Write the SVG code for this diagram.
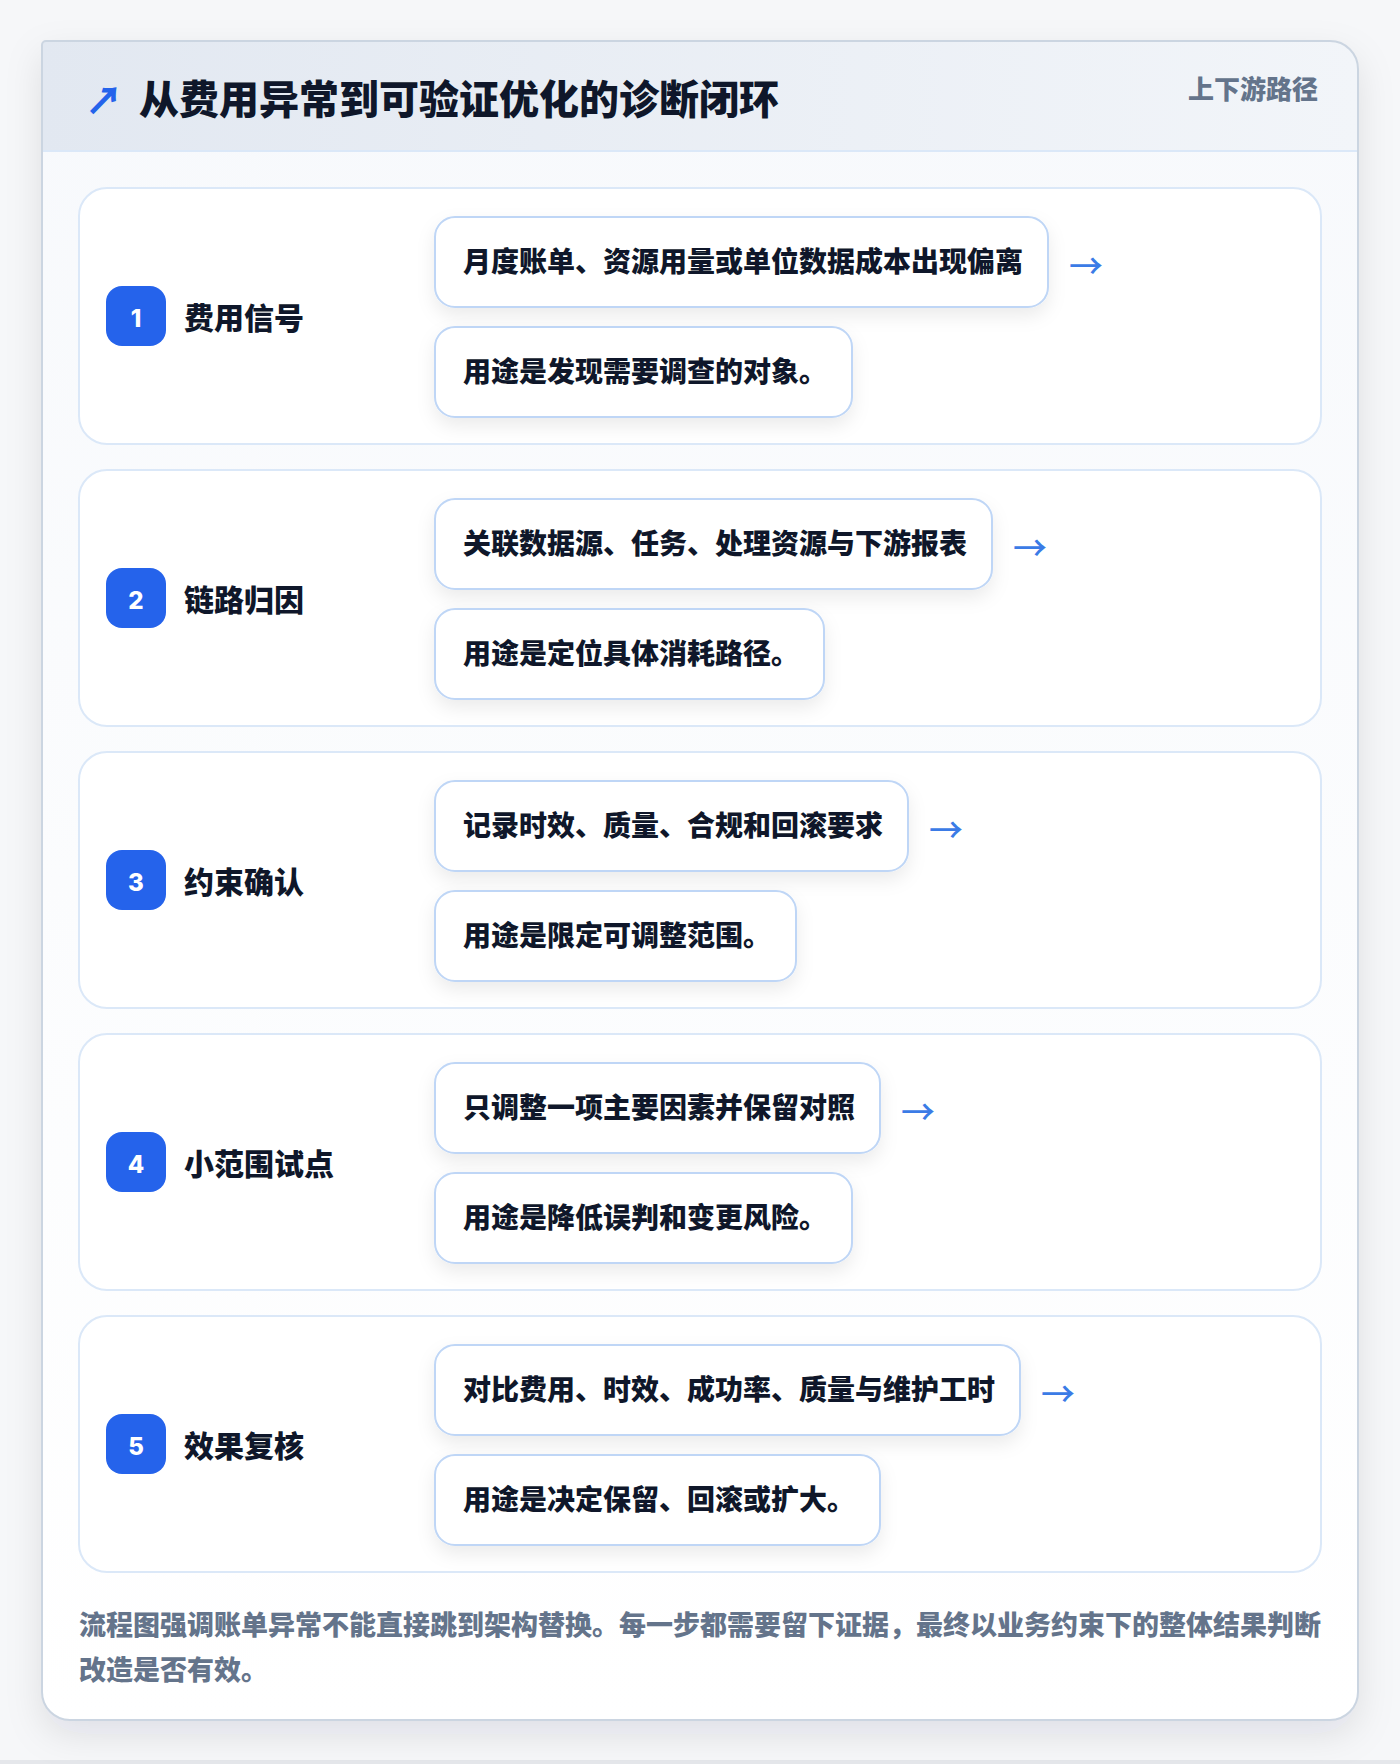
<svg xmlns="http://www.w3.org/2000/svg" width="1400" height="1764" viewBox="0 0 1400 1764">
  <defs>
    <linearGradient id="hdr" x1="0" y1="0" x2="1" y2="0">
      <stop offset="0" stop-color="#e2e8f1"/>
      <stop offset="1" stop-color="#f2f5f9"/>
    </linearGradient>
    <linearGradient id="body" x1="0" y1="0" x2="0" y2="1">
      <stop offset="0" stop-color="#f7f9fc"/>
      <stop offset="1" stop-color="#ffffff"/>
    </linearGradient>
    <filter id="cardShadow" x="-10%" y="-10%" width="120%" height="120%">
      <feDropShadow dx="0" dy="14" stdDeviation="18" flood-color="#0f172a" flood-opacity="0.10"/>
    </filter>
    <filter id="boxShadow" x="-20%" y="-40%" width="140%" height="190%">
      <feDropShadow dx="0" dy="8" stdDeviation="9" flood-color="#0f172a" flood-opacity="0.08"/>
    </filter>
    <clipPath id="cardClip">
      <path d="M46,41 H1330 A28,28 0 0 1 1358,69 V1692 A28,28 0 0 1 1330,1720 H70 A28,28 0 0 1 42,1692 V45 A4,4 0 0 1 46,41 Z"/>
    </clipPath>
  </defs>
  <style>
    .cjk { font-family: "Noto Sans CJK SC", "Noto Sans", sans-serif; }
    .title { font-size: 40px; font-weight: 900; fill: #0f172a; }
    .tag { font-size: 26px; font-weight: 800; fill: #64748b; }
    .row { fill: #ffffff; stroke: #dbe8f8; stroke-width: 2; }
    .box { fill: #ffffff; stroke: #bfd6f6; stroke-width: 2; filter: url(#boxShadow); }
    .badge { fill: #2563eb; }
    .num { font-family: Inter, "Liberation Sans", sans-serif; font-size: 24px; font-weight: 800; fill: #ffffff; text-anchor: middle; }
    .step { font-size: 30px; font-weight: 900; fill: #0f172a; }
    .btxt { font-size: 28px; font-weight: 900; fill: #0f172a; }
    .arrow { font-size: 34px; font-weight: 500; fill: #3b7be6; }
    .note { font-size: 27px; font-weight: 900; fill: #64748b; }
  </style>

  <rect x="0" y="0" width="1400" height="1764" fill="#f6f7f9"/>
  <rect x="0" y="1760" width="1400" height="4" fill="#e5e7eb"/>

  <g id="card">
    <path d="M46,41 H1330 A28,28 0 0 1 1358,69 V1692 A28,28 0 0 1 1330,1720 H70 A28,28 0 0 1 42,1692 V45 A4,4 0 0 1 46,41 Z" fill="url(#body)" filter="url(#cardShadow)"/>
    <g clip-path="url(#cardClip)">
      <rect x="42" y="41" width="1316" height="110" fill="url(#hdr)"/>
      <rect x="42" y="150" width="1316" height="2" fill="#dbe8f8"/>
    </g>
    <path d="M46,41 H1330 A28,28 0 0 1 1358,69 V1692 A28,28 0 0 1 1330,1720 H70 A28,28 0 0 1 42,1692 V45 A4,4 0 0 1 46,41 Z" fill="none" stroke="#cbd5e1" stroke-width="2"/>
  </g>

  <g id="header">
    <text x="85" y="114" class="cjk" font-size="38" font-weight="900" fill="#2563eb">↗</text>
    <text x="139" y="114" class="cjk title">从费用异常到可验证优化的诊断闭环</text>
    <text x="1318" y="99" class="cjk tag" text-anchor="end">上下游路径</text>
  </g>

  <g id="step1">
    <rect class="row" x="79" y="188" width="1242" height="256" rx="28"/>
    <rect class="badge" x="106" y="286" width="60" height="60" rx="16"/>
    <text class="num" x="136" y="327">1</text>
    <text class="cjk step" x="184" y="329">费用信号</text>
    <rect class="box" x="435" y="217" width="613" height="90" rx="20"/>
    <text class="cjk btxt" x="463" y="272">月度账单、资源用量或单位数据成本出现偏离</text>
    <rect class="box" x="435" y="327" width="417" height="90" rx="20"/>
    <text class="cjk btxt" x="463" y="382">用途是发现需要调查的对象。</text>
  </g>

  <g id="step2">
    <rect class="row" x="79" y="470" width="1242" height="256" rx="28"/>
    <rect class="badge" x="106" y="568" width="60" height="60" rx="16"/>
    <text class="num" x="136" y="609">2</text>
    <text class="cjk step" x="184" y="611">链路归因</text>
    <rect class="box" x="435" y="499" width="557" height="90" rx="20"/>
    <text class="cjk btxt" x="463" y="554">关联数据源、任务、处理资源与下游报表</text>
    <rect class="box" x="435" y="609" width="389" height="90" rx="20"/>
    <text class="cjk btxt" x="463" y="664">用途是定位具体消耗路径。</text>
  </g>

  <g id="step3">
    <rect class="row" x="79" y="752" width="1242" height="256" rx="28"/>
    <rect class="badge" x="106" y="850" width="60" height="60" rx="16"/>
    <text class="num" x="136" y="891">3</text>
    <text class="cjk step" x="184" y="893">约束确认</text>
    <rect class="box" x="435" y="781" width="473" height="90" rx="20"/>
    <text class="cjk btxt" x="463" y="836">记录时效、质量、合规和回滚要求</text>
    <rect class="box" x="435" y="891" width="361" height="90" rx="20"/>
    <text class="cjk btxt" x="463" y="946">用途是限定可调整范围。</text>
  </g>

  <g id="step4">
    <rect class="row" x="79" y="1034" width="1242" height="256" rx="28"/>
    <rect class="badge" x="106" y="1132" width="60" height="60" rx="16"/>
    <text class="num" x="136" y="1173">4</text>
    <text class="cjk step" x="184" y="1175">小范围试点</text>
    <rect class="box" x="435" y="1063" width="445" height="90" rx="20"/>
    <text class="cjk btxt" x="463" y="1118">只调整一项主要因素并保留对照</text>
    <rect class="box" x="435" y="1173" width="417" height="90" rx="20"/>
    <text class="cjk btxt" x="463" y="1228">用途是降低误判和变更风险。</text>
  </g>

  <g id="step5">
    <rect class="row" x="79" y="1316" width="1242" height="256" rx="28"/>
    <rect class="badge" x="106" y="1414" width="60" height="60" rx="16"/>
    <text class="num" x="136" y="1455">5</text>
    <text class="cjk step" x="184" y="1457">效果复核</text>
    <rect class="box" x="435" y="1345" width="585" height="90" rx="20"/>
    <text class="cjk btxt" x="463" y="1400">对比费用、时效、成功率、质量与维护工时</text>
    <rect class="box" x="435" y="1455" width="445" height="90" rx="20"/>
    <text class="cjk btxt" x="463" y="1510">用途是决定保留、回滚或扩大。</text>
  </g>

  <g id="connectors">
    <text class="cjk arrow" x="1069" y="279">→</text>
    <text class="cjk arrow" x="1013" y="561">→</text>
    <text class="cjk arrow" x="929" y="843">→</text>
    <text class="cjk arrow" x="901" y="1125">→</text>
    <text class="cjk arrow" x="1041" y="1407">→</text>
  </g>

  <g id="note">
    <text class="cjk note" x="79" y="1635">流程图强调账单异常不能直接跳到架构替换。每一步都需要留下证据，最终以业务约束下的整体结果判断</text>
    <text class="cjk note" x="79" y="1680">改造是否有效。</text>
  </g>
</svg>
